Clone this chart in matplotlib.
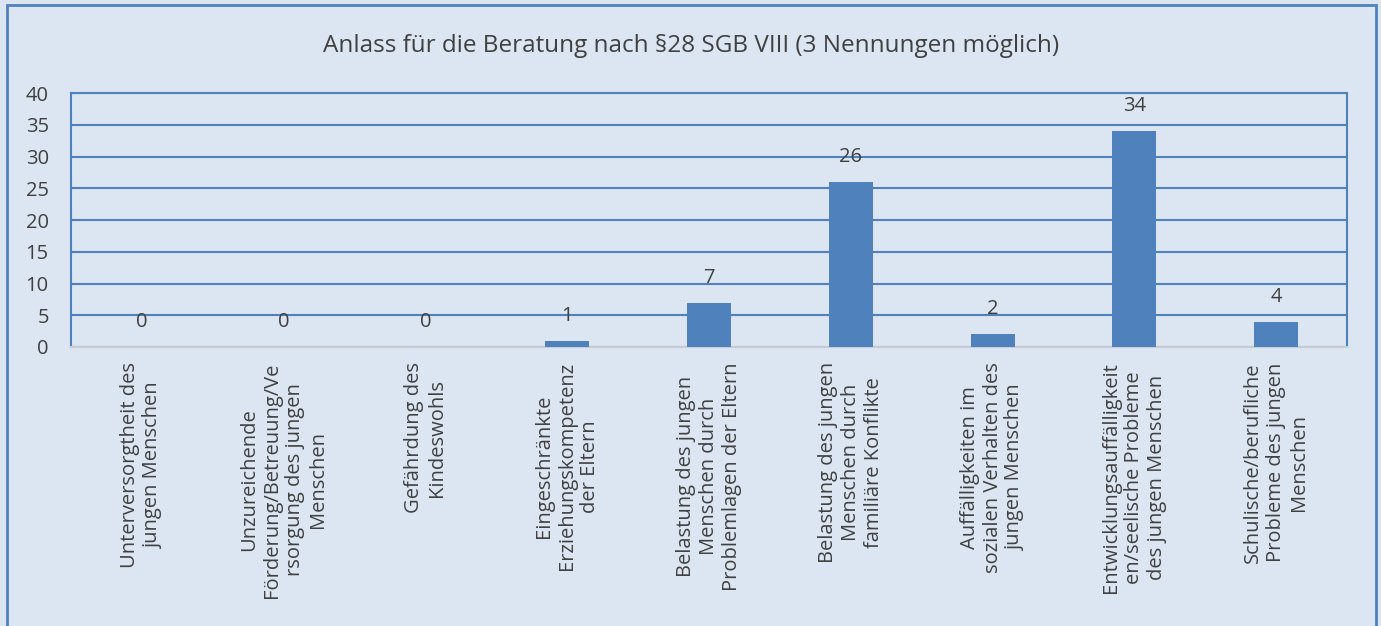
import matplotlib.pyplot as plt
from matplotlib.patches import Rectangle

# data
categories = [
    "Unterversorgtheit des\njungen Menschen",
    "Unzureichende\nFörderung/Betreuung/Ve\nrsorgung des jungen\nMenschen",
    "Gefährdung des\nKindeswohls",
    "Eingeschränkte\nErziehungskompetenz\nder Eltern",
    "Belastung des jungen\nMenschen durch\nProblemlagen der Eltern",
    "Belastung des jungen\nMenschen durch\nfamiliäre Konflikte",
    "Auffälligkeiten im\nsozialen Verhalten des\njungen Menschen",
    "Entwicklungsauffälligkeit\nen/seelische Probleme\ndes jungen Menschen",
    "Schulische/berufliche\nProbleme des jungen\nMenschen",
]
counts = [0, 0, 0, 1, 7, 26, 2, 34, 4]
yticks = [0, 5, 10, 15, 20, 25, 30, 35, 40]
title = "Anlass für die Beratung nach §28 SGB VIII (3 Nennungen möglich)"

BG = "#DCE6F2"
BLUE = "#4F81BD"
TXT = "#404040"

plt.rcParams["font.family"] = ["Open Sans", "DejaVu Sans"]

fig = plt.figure(figsize=(13.81, 6.26), dpi=100, facecolor=BG)

# outer chart border (bottom edge runs off the image)
fig.patches.append(Rectangle((7 / 1381, -0.05), 1369 / 1381, 1.05 - 5 / 626,
                             transform=fig.transFigure, fill=False,
                             edgecolor=BLUE, linewidth=2.0))

ax = fig.add_axes([71 / 1381, 1 - 347 / 626, 1276 / 1381, 254 / 626])
ax.set_facecolor(BG)

x = range(len(categories))
ax.bar(x, counts, width=0.31, color=BLUE, zorder=3)
for xi, v in zip(x, counts):
    ax.annotate(str(v), (xi, v), xytext=(0, 18), textcoords="offset points",
                ha="center", va="center", fontsize=14.5, color=TXT)

ax.set_xlim(-0.5, len(categories) - 0.5)
ax.set_ylim(0, 40)
ax.set_yticks(yticks)
ax.yaxis.grid(True, color=BLUE, linewidth=1.5, zorder=0)
ax.set_axisbelow(True)

ax.set_xticks(list(x))
ax.set_xticklabels(categories, rotation=90, ha="center", va="top",
                   multialignment="center", fontsize=14.5, color=TXT,
                   linespacing=1.2)
ax.tick_params(axis="x", length=0, pad=11)
ax.tick_params(axis="y", length=0, pad=16, labelsize=14.5, labelcolor=TXT)

for side in ("left", "right", "top"):
    ax.spines[side].set_color(BLUE)
    ax.spines[side].set_linewidth(1.5)
ax.spines["bottom"].set_color("#C8CCD2")
ax.spines["bottom"].set_linewidth(1.5)

fig.text(691 / 1381, 1 - 46 / 626, title, ha="center", va="center",
         fontsize=17.5, color=TXT)

fig.savefig("out.png", dpi=100, facecolor=BG)
